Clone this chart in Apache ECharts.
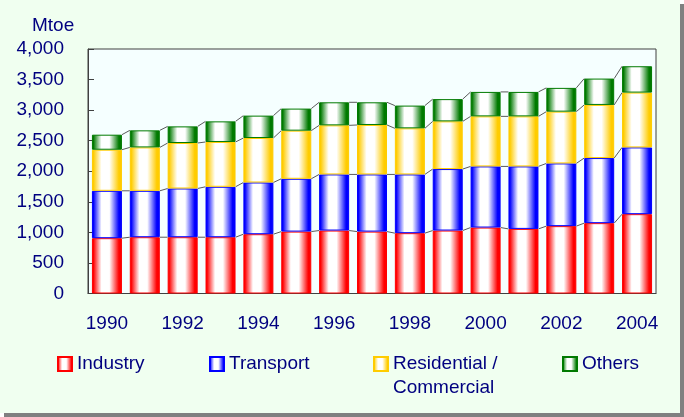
<!DOCTYPE html>
<html>
<head>
<meta charset="utf-8">
<script src="https://cdn.jsdelivr.net/npm/echarts@6/dist/echarts.min.js"></script>
<style>
html,body{margin:0;padding:0;background:#ffffff;}
#bg{position:absolute;left:0;top:0;width:680px;height:413px;background:#F0FFF0;box-shadow:4px 4px 0 #808080;}
#chart{position:absolute;left:0;top:0;width:684px;height:417px;}
</style>
</head>
<body>
<div id="bg"></div>
<div id="chart"></div>
<script>
const years = ['1990','1991','1992','1993','1994','1995','1996','1997','1998','1999','2000','2001','2002','2003','2004'];
const industry    = [905, 921, 921, 921, 970, 1013, 1030, 1013, 987, 1030, 1079, 1057, 1102, 1151, 1298];
const transport   = [775, 759, 797, 825, 846, 864, 918, 935, 961, 1006, 1000, 1022, 1026, 1065, 1092];
const residential = [672, 710, 744, 733, 728, 787, 803, 809, 754, 780, 819, 819, 847, 869, 897];
const others      = [246, 279, 272, 337, 366, 361, 377, 371, 372, 364, 400, 400, 389, 431, 431];
const yTicks = [0, 500, 1000, 1500, 2000, 2500, 3000, 3500, 4000];

const names = ['Industry', 'Transport', 'Residential / Commercial', 'Others'];
const colors = ['#FF0000', '#0000FF', '#FFCC00', '#007A00'];
const stacks = [industry, transport, residential, others];

const NAVY = '#000080';
const FONT = '"Liberation Sans", Arial, sans-serif';
const BAR_W = 30;

function grad(c) {
  return new echarts.graphic.LinearGradient(0, 0, 1, 0, [
    {offset: 0, color: c},
    {offset: 0.05, color: c},
    {offset: 0.32, color: '#FFFFFF'},
    {offset: 0.58, color: '#FFFFFF'},
    {offset: 0.9, color: c},
    {offset: 1, color: c}
  ]);
}

// cumulative tops per stack level
const cums = [];
let run = years.map(() => 0);
stacks.forEach(s => { run = run.map((v, i) => v + s[i]); cums.push(run.slice()); });

const series = stacks.map((s, k) => ({
  name: names[k],
  type: 'bar',
  stack: 'total',
  barWidth: BAR_W,
  data: s,
  itemStyle: { color: grad(colors[k]), borderColor: colors[k], borderWidth: 1 },
  emphasis: { disabled: true }
}));

// Excel-style series lines connecting adjacent bar segment tops
cums.forEach((c, k) => {
  const d = [];
  for (let i = 0; i < c.length - 1; i++) d.push([i, c[i], c[i + 1]]);
  series.push({
    type: 'custom',
    name: 'sl' + k,
    silent: true,
    z: 3,
    data: d,
    encode: { x: 0, y: 1 },
    renderItem: function (params, api) {
      const i = api.value(0);
      const p1 = api.coord([i, api.value(1)]);
      const p2 = api.coord([i + 1, api.value(2)]);
      return {
        type: 'line',
        shape: { x1: p1[0] + BAR_W / 2, y1: p1[1], x2: p2[0] - BAR_W / 2, y2: p2[1] },
        style: { stroke: '#5a5a5a', lineWidth: 1 }
      };
    }
  });
});

const legendBase = {
  orient: 'horizontal', padding: 0, itemWidth: 14, itemHeight: 14, icon: 'rect',
  selectedMode: false, top: 354,
  textStyle: { color: NAVY, fontSize: 19, fontFamily: FONT, lineHeight: 20 }
};

const chart = echarts.init(document.getElementById('chart'));
chart.setOption({
  animation: false,
  backgroundColor: 'transparent',
  textStyle: { fontFamily: FONT },
  grid: {
    left: 88, top: 49, width: 568, height: 244.5,
    show: true, backgroundColor: '#F5FFFF', borderColor: '#404040', borderWidth: 1
  },
  xAxis: {
    type: 'category',
    data: years,
    axisLine: { lineStyle: { color: '#404040', width: 1 } },
    axisTick: { inside: true, length: 6, interval: 0, lineStyle: { color: '#404040' } },
    axisLabel: { interval: 1, color: NAVY, fontSize: 19, fontFamily: FONT, margin: 21 },
    splitLine: { show: false }
  },
  yAxis: {
    type: 'value',
    min: yTicks[0], max: yTicks[yTicks.length - 1], interval: yTicks[1] - yTicks[0],
    axisLine: { show: true, lineStyle: { color: '#404040', width: 1 } },
    axisTick: { show: true, inside: true, length: 6, lineStyle: { color: '#404040' } },
    axisLabel: {
      color: NAVY, fontSize: 19, fontFamily: FONT, margin: 24, padding: [4, 0, 0, 0],
      formatter: v => v.toLocaleString('en-US')
    },
    splitLine: { show: false }
  },
  legend: [
    Object.assign({}, legendBase, { left: 57, data: [names[0]] }),
    Object.assign({}, legendBase, { left: 209, data: [names[1]] }),
    Object.assign({}, legendBase, { left: 373, data: [names[2]], formatter: () => 'Residential /' }),
    Object.assign({}, legendBase, { left: 562, data: [names[3]] })
  ],
  graphic: [
    { type: 'text', left: 32, top: 16, style: { text: 'Mtoe', fill: NAVY, font: '19px ' + FONT } },
    { type: 'text', left: 393, top: 378, style: { text: 'Commercial', fill: NAVY, font: '19px ' + FONT } }
  ],
  series: series
});
</script>
</body>
</html>
